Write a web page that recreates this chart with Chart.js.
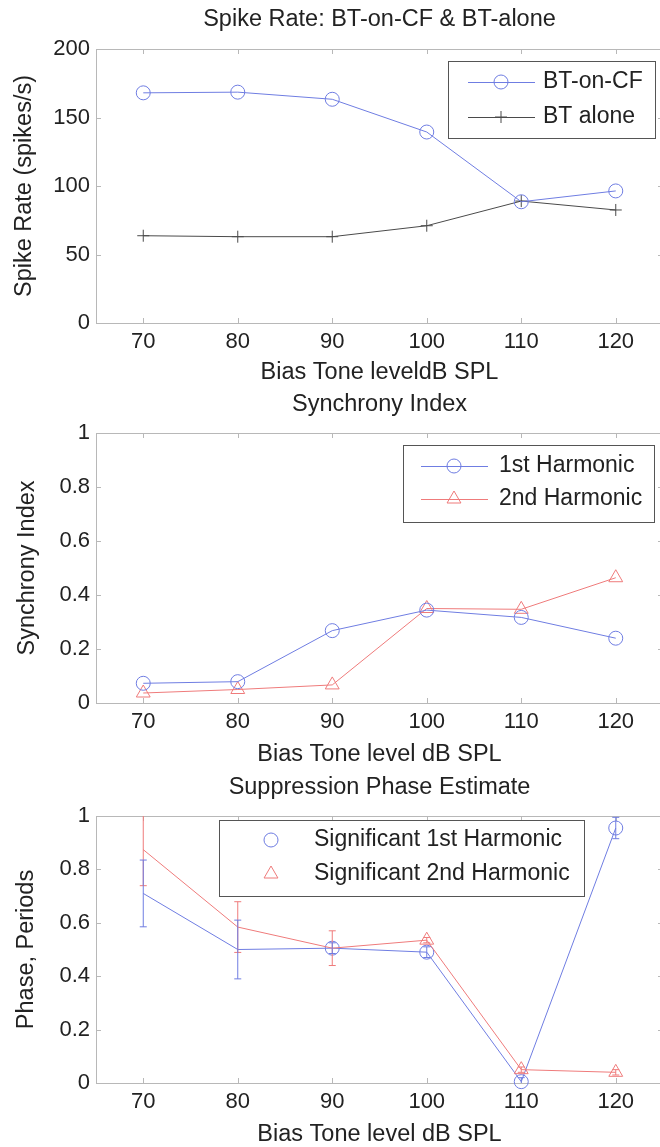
<!DOCTYPE html>
<html>
<head>
<meta charset="utf-8">
<script src="https://cdn.jsdelivr.net/npm/chart.js@4"></script>
<style>
  body { margin: 0; background: #fff; overflow: hidden; width: 660px; height: 1147px; position: relative; }
  canvas { position: absolute; left: 0; }
</style>
</head>
<body>
<canvas id="rateChart" style="top:0px"></canvas>
<canvas id="syncChart" style="top:383px"></canvas>
<canvas id="phaseChart" style="top:765px"></canvas>
<script>
// bias tone levels (dB SPL)
const levels = [70, 80, 90, 100, 110, 120];
const xTicks = [70, 80, 90, 100, 110, 120];
const rateTicks = [0, 50, 100, 150, 200];
const unitTicks = [0, 0.2, 0.4, 0.6, 0.8, 1];

// spike rate
const rateOnCF = [168, 168.5, 163.3, 139.4, 88.5, 96.4];
const rateAlone = [63.7, 63, 63, 71, 89, 82.5];

// synchrony index
const sync1st = [0.073, 0.079, 0.268, 0.344, 0.317, 0.24];
const sync2nd = [0.037, 0.05, 0.067, 0.35, 0.347, 0.464];

// suppression phase + error
const phase1st = [0.71, 0.50, 0.505, 0.49, 0.005, 0.955];
const phase1stErr = [0.125, 0.11, 0.02, 0.02, 0.015, 0.04];
const phase2nd = [0.874, 0.584, 0.505, 0.535, 0.05, 0.04];
const phase2ndErr = [0.135, 0.095, 0.065, 0.01, 0.01, 0.01];
const sig1st = [false, false, true, true, true, true];
const sig2nd = [false, false, false, true, true, true];

const BLUE = '#6f7de2';
const RED = '#ef7b7b';
const BLACK = '#4a4a4a';
const TEXT = '#222';
const FONT = "'Liberation Sans', Arial, sans-serif";

Chart.defaults.font.family = FONT;
Chart.defaults.font.size = 22;
Chart.defaults.color = TEXT;

function pts(vals) {
    return levels.map((x, i) => ({ x: x, y: vals[i] }));
}

function drawMark(ctx, style, x, y, r, color) {
    ctx.save();
    ctx.strokeStyle = color;
    ctx.lineWidth = 1;
    ctx.beginPath();
    if (style === 'circle') {
        ctx.arc(x, y, r, 0, Math.PI * 2);
    } else if (style === 'triangle') {
        ctx.moveTo(x, y - r);
        ctx.lineTo(x + r * 0.866, y + r / 2);
        ctx.lineTo(x - r * 0.866, y + r / 2);
        ctx.closePath();
    } else if (style === 'cross') {
        ctx.moveTo(x - r, y); ctx.lineTo(x + r, y);
        ctx.moveTo(x, y - r); ctx.lineTo(x, y + r);
    }
    ctx.stroke();
    ctx.restore();
}

// axes box with inward ticks, like matlab
const framePlugin = {
    id: 'frame',
    beforeDatasetsDraw(chart) {
        const { ctx, chartArea: a, scales } = chart;
        ctx.save();
        ctx.strokeStyle = '#b8b8b8';
        ctx.lineWidth = 1;
        ctx.strokeRect(Math.round(a.left) + 0.5, Math.round(a.top) + 0.5, Math.round(a.width), Math.round(a.height));
        ctx.beginPath();
        scales.x.ticks.forEach(t => {
            const px = Math.round(scales.x.getPixelForValue(t.value)) + 0.5;
            ctx.moveTo(px, a.bottom); ctx.lineTo(px, a.bottom - 5);
            ctx.moveTo(px, a.top); ctx.lineTo(px, a.top + 5);
        });
        scales.y.ticks.forEach(t => {
            const py = Math.round(scales.y.getPixelForValue(t.value)) + 0.5;
            ctx.moveTo(a.left, py); ctx.lineTo(a.left + 5, py);
            ctx.moveTo(a.right, py); ctx.lineTo(a.right - 5, py);
        });
        ctx.stroke();
        ctx.restore();
    }
};

const errorBarPlugin = {
    id: 'errbars',
    afterDatasetsDraw(chart) {
        const { ctx, chartArea: a, scales } = chart;
        ctx.save();
        ctx.beginPath();
        ctx.rect(a.left, a.top, a.width, a.height);
        ctx.clip();
        chart.data.datasets.forEach((ds, i) => {
            if (!ds.errors) return;
            const meta = chart.getDatasetMeta(i);
            ctx.strokeStyle = ds.borderColor;
            ctx.lineWidth = 1;
            ds.data.forEach((p, j) => {
                const x = meta.data[j].x;
                const yTop = scales.y.getPixelForValue(p.y + ds.errors[j]);
                const yBot = scales.y.getPixelForValue(p.y - ds.errors[j]);
                ctx.beginPath();
                ctx.moveTo(x, yTop); ctx.lineTo(x, yBot);
                ctx.moveTo(x - 3.5, yTop); ctx.lineTo(x + 3.5, yTop);
                ctx.moveTo(x - 3.5, yBot); ctx.lineTo(x + 3.5, yBot);
                ctx.stroke();
            });
        });
        ctx.restore();
    }
};

const boxLegendPlugin = {
    id: 'boxLegend',
    afterDraw(chart, args, opts) {
        if (!opts.rows) return;
        const ctx = chart.ctx;
        const [x1, y1, x2, y2] = opts.box;
        ctx.save();
        ctx.fillStyle = '#fff';
        ctx.fillRect(x1, y1, x2 - x1, y2 - y1);
        ctx.strokeStyle = '#555';
        ctx.lineWidth = 1;
        ctx.strokeRect(x1 + 0.5, y1 + 0.5, x2 - x1, y2 - y1);
        opts.rows.forEach(r => {
            if (opts.sample) {
                ctx.strokeStyle = r.color;
                ctx.beginPath();
                ctx.moveTo(opts.sample[0], r.y + 0.5);
                ctx.lineTo(opts.sample[1], r.y + 0.5);
                ctx.stroke();
            }
            drawMark(ctx, r.style, opts.markerX, r.y, r.size, r.color);
            ctx.fillStyle = TEXT;
            ctx.font = '23px ' + FONT;
            ctx.textBaseline = 'middle';
            ctx.textAlign = 'left';
            ctx.fillText(r.text, opts.textX, r.y);
        });
        ctx.restore();
    }
};

function makeChart(id, cfg) {
    const el = document.getElementById(id);
    el.width = 665;
    el.height = cfg.height;
    const tSize = 23.5;
    return new Chart(el, {
        type: 'line',
        data: { datasets: cfg.datasets },
        plugins: [framePlugin, errorBarPlugin, boxLegendPlugin],
        options: {
            responsive: false,
            animation: false,
            layout: { autoPadding: false, padding: { left: 0, right: 2, top: 0, bottom: 0 } },
            plugins: {
                legend: { display: false },
                tooltip: { enabled: false },
                title: {
                    display: true,
                    text: cfg.title,
                    fullSize: false,
                    color: TEXT,
                    font: { size: tSize, weight: 'normal', lineHeight: 1.2 },
                    padding: { top: cfg.titleY - tSize * 0.6, bottom: cfg.plotTop - cfg.titleY - tSize * 0.6 }
                },
                boxLegend: cfg.legend
            },
            scales: {
                x: {
                    type: 'linear',
                    min: 65,
                    max: 125,
                    afterBuildTicks: s => { s.ticks = xTicks.map(v => ({ value: v })); },
                    afterFit: s => { s.height = cfg.height - cfg.plotBottom; },
                    grid: { display: false, drawTicks: false },
                    border: { display: false },
                    ticks: { padding: 6, autoSkip: false, maxRotation: 0, color: TEXT, callback: v => String(v) },
                    title: {
                        display: true, text: cfg.xTitle, color: TEXT,
                        font: { size: tSize, lineHeight: 0.8 },
                        padding: { top: 0, bottom: cfg.xTitleGap - tSize * 0.4 }
                    }
                },
                y: {
                    type: 'linear',
                    min: cfg.yMin,
                    max: cfg.yMax,
                    afterBuildTicks: s => { s.ticks = cfg.yTicks.map(v => ({ value: v })); },
                    afterFit: s => { s.width = 96; },
                    grid: { display: false, drawTicks: false },
                    border: { display: false },
                    ticks: { padding: 6, color: TEXT, callback: v => String(v) },
                    title: {
                        display: true, text: cfg.yTitle, color: TEXT,
                        font: { size: tSize, lineHeight: 1 },
                        padding: { top: cfg.yTitleX - tSize / 2, bottom: 0 }
                    }
                }
            }
        }
    });
}

function series(vals, color, style, radius, extra) {
    return Object.assign({
        data: pts(vals),
        borderColor: color,
        borderWidth: 1,
        pointStyle: style,
        pointRadius: radius,
        pointBorderColor: color,
        pointBackgroundColor: 'rgba(0,0,0,0)',
        pointBorderWidth: 1,
        tension: 0,
        clip: false
    }, extra || {});
}

makeChart('rateChart', {
    height: 383, titleY: 20, plotTop: 49, plotBottom: 323, xTitleGap: 10, yTitleX: 25,
    title: 'Spike Rate: BT-on-CF & BT-alone',
    xTitle: 'Bias Tone leveldB SPL',
    yTitle: 'Spike Rate (spikes/s)',
    yMin: 0, yMax: 200, yTicks: rateTicks,
    datasets: [
        series(rateOnCF, BLUE, 'circle', 7),
        series(rateAlone, BLACK, 'cross', 6)
    ],
    legend: {
        box: [448, 61, 655, 138], sample: [468, 535], markerX: 501, textX: 543,
        rows: [
            { y: 82, text: 'BT-on-CF', color: BLUE, style: 'circle', size: 7 },
            { y: 117, text: 'BT alone', color: BLACK, style: 'cross', size: 6 }
        ]
    }
});

makeChart('syncChart', {
    height: 382, titleY: 22, plotTop: 50, plotBottom: 320, xTitleGap: 10, yTitleX: 28,
    title: 'Synchrony Index',
    xTitle: 'Bias Tone level dB SPL',
    yTitle: 'Synchrony Index',
    yMin: 0, yMax: 1, yTicks: unitTicks,
    datasets: [
        series(sync1st, BLUE, 'circle', 7),
        series(sync2nd, RED, 'triangle', 8)
    ],
    legend: {
        box: [403, 62, 654, 139], sample: [421, 488], markerX: 454, textX: 499,
        rows: [
            { y: 83, text: '1st Harmonic', color: BLUE, style: 'circle', size: 7 },
            { y: 116, text: '2nd Harmonic', color: RED, style: 'triangle', size: 8 }
        ]
    }
});

makeChart('phaseChart', {
    height: 382, titleY: 23, plotTop: 51, plotBottom: 318, xTitleGap: 12, yTitleX: 27,
    title: 'Suppression Phase Estimate',
    xTitle: 'Bias Tone level dB SPL',
    yTitle: 'Phase, Periods',
    yMin: 0, yMax: 1, yTicks: unitTicks,
    datasets: [
        series(phase2nd, RED, 'triangle', sig2nd.map(s => s ? 8 : 0), { errors: phase2ndErr }),
        series(phase1st, BLUE, 'circle', sig1st.map(s => s ? 7 : 0), { errors: phase1stErr })
    ],
    legend: {
        box: [219, 55, 584, 131], markerX: 271, textX: 314,
        rows: [
            { y: 75, text: 'Significant 1st Harmonic', color: BLUE, style: 'circle', size: 7 },
            { y: 109, text: 'Significant 2nd Harmonic', color: RED, style: 'triangle', size: 8 }
        ]
    }
});
</script>
</body>
</html>
